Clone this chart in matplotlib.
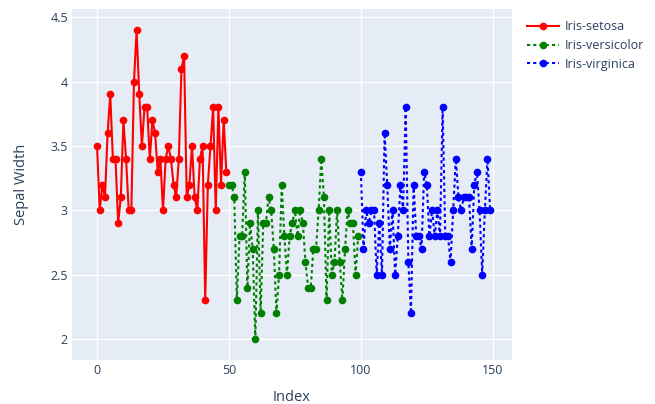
import matplotlib
matplotlib.use('Agg')
import matplotlib.pyplot as plt

plt.rcParams['font.family'] = ['Open Sans', 'DejaVu Sans']

# sepal width per species, in dataset order
setosa = [3.5, 3.0, 3.2, 3.1, 3.6, 3.9, 3.4, 3.4, 2.9, 3.1, 3.7, 3.4, 3.0, 3.0, 4.0, 4.4, 3.9, 3.5, 3.8, 3.8,
          3.4, 3.7, 3.6, 3.3, 3.4, 3.0, 3.4, 3.5, 3.4, 3.2, 3.1, 3.4, 4.1, 4.2, 3.1, 3.2, 3.5, 3.1, 3.0, 3.4,
          3.5, 2.3, 3.2, 3.5, 3.8, 3.0, 3.8, 3.2, 3.7, 3.3]
versicolor = [3.2, 3.2, 3.1, 2.3, 2.8, 2.8, 3.3, 2.4, 2.9, 2.7, 2.0, 3.0, 2.2, 2.9, 2.9, 3.1, 3.0, 2.7, 2.2, 2.5,
              3.2, 2.8, 2.5, 2.8, 2.9, 3.0, 2.8, 3.0, 2.9, 2.6, 2.4, 2.4, 2.7, 2.7, 3.0, 3.4, 3.1, 2.3, 3.0, 2.5,
              2.6, 3.0, 2.6, 2.3, 2.7, 3.0, 2.9, 2.9, 2.5, 2.8]
virginica = [3.3, 2.7, 3.0, 2.9, 3.0, 3.0, 2.5, 2.9, 2.5, 3.6, 3.2, 2.7, 3.0, 2.5, 2.8, 3.2, 3.0, 3.8, 2.6, 2.2,
             3.2, 2.8, 2.8, 2.7, 3.3, 3.2, 2.8, 3.0, 2.8, 3.0, 2.8, 3.8, 2.8, 2.8, 2.6, 3.0, 3.4, 3.1, 3.0, 3.1,
             3.1, 3.1, 2.7, 3.2, 3.3, 3.0, 2.5, 3.0, 3.4, 3.0]
species = ['Iris-setosa', 'Iris-versicolor', 'Iris-virginica']
colors = ['red', 'green', 'blue']
x_ticks = [0, 50, 100, 150]
y_ticks = [2, 2.5, 3, 3.5, 4, 4.5]
y_ticklabels = ['2', '2.5', '3', '3.5', '4', '4.5']

fig = plt.figure(figsize=(6.55, 4.04), dpi=100)
ax = fig.add_axes([0.1099, 0.1089, 0.6718, 0.8688])
ax.set_facecolor('#E5ECF6')

start = 0
for name, vals, c in zip(species, [setosa, versicolor, virginica], colors):
    idx = list(range(start, start + len(vals)))
    start += len(vals)
    if name == 'Iris-setosa':
        ax.plot(idx, vals, color=c, lw=1.5, marker='o', ms=4.5, label=name)
    else:
        ax.plot(idx, vals, color=c, lw=1.5, marker='o', ms=4.5, label=name,
                linestyle=(0, (1.5, 1.5)))

ax.set_xlim(-9.5, 157.3)
ax.set_ylim(1.837, 4.564)
ax.set_xticks(x_ticks)
ax.set_yticks(y_ticks)
ax.set_yticklabels(y_ticklabels)
ax.grid(True, color='white', lw=1)
ax.set_axisbelow(True)
for s in ax.spines.values():
    s.set_visible(False)
ax.tick_params(length=0, labelsize=9, colors='#2a3f5f')
ax.tick_params(axis='x', pad=3)
ax.tick_params(axis='y', pad=3)
ax.set_xlabel('Index', fontsize=10.5, color='#2a3f5f', labelpad=9)
ax.set_ylabel('Sepal Width', fontsize=10.5, color='#2a3f5f', labelpad=15)

leg = ax.legend(loc='upper left', bbox_to_anchor=(1.008, 1.0), frameon=False,
                fontsize=9, handlelength=2.6, labelspacing=0.45, handletextpad=0.4)
for t in leg.get_texts():
    t.set_color('#2a3f5f')

fig.savefig('out.png', dpi=100)
